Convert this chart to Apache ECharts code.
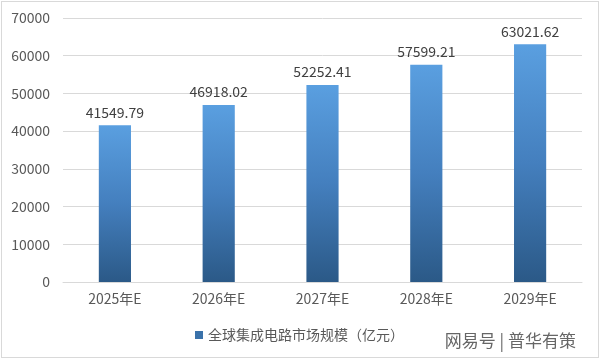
<!DOCTYPE html>
<html><head><meta charset="utf-8">
<script src="https://cdn.jsdelivr.net/npm/echarts@6/dist/echarts.min.js"></script>
<style>html,body{margin:0;padding:0;background:#fff}#c{width:602px;height:361px}
#frame{position:absolute;left:1px;top:1px;width:598px;height:357px;border:1px solid #d9d9d9;pointer-events:none;box-sizing:border-box}</style>
</head><body><div id="c"></div><div id="frame"></div>
<script>
const categories = ['2025年E','2026年E','2027年E','2028年E','2029年E'];
const values = [41549.79, 46918.02, 52252.41, 57599.21, 63021.62];
const seriesName = '全球集成电路市场规模（亿元）';
const yTicks = {min:0, max:70000, interval:10000};

const chart = echarts.init(document.getElementById('c'), null, {renderer:'canvas'});
const font = '"Microsoft YaHei","Noto Sans CJK SC","Noto Sans",sans-serif';
chart.setOption({
  animation:false,
  textStyle:{fontFamily:font},
  grid:{left:63, right:20, top:18, bottom:79, containLabel:false},
  xAxis:{type:'category', data:categories,
    axisLine:{show:true, lineStyle:{color:'#d9d9d9'}}, axisTick:{show:false},
    axisLabel:{color:'#595959', fontSize:14, margin:10, fontFamily:font}},
  yAxis:{type:'value', min:yTicks.min, max:yTicks.max, interval:yTicks.interval,
    axisLine:{show:false}, axisTick:{show:false},
    splitLine:{lineStyle:{color:'#d9d9d9', width:1}},
    axisLabel:{color:'#595959', fontSize:14, margin:13, fontFamily:font, formatter:v=>String(v)}},
  legend:{bottom:14, left:190, itemWidth:8, itemHeight:8, icon:'rect',
    textStyle:{color:'#595959', fontSize:14, fontFamily:font}, itemGap:6,
    data:[{name:seriesName, itemStyle:{color:'#3a72aa'}}]},
  series:[{name:seriesName, type:'bar', data:values, barWidth:'31%',
    itemStyle:{color:new echarts.graphic.LinearGradient(0,0,0,1,[
      {offset:0,color:'#5a9fe0'},{offset:0.5,color:'#447fbe'},{offset:1,color:'#2b5987'}])},
    label:{show:true, position:'top', color:'#404040', fontSize:14, distance:6,
      formatter:p=>p.value.toFixed(2)}}],
  graphic:[{type:'text', right:26, bottom:12, style:{text:'网易号 | 普华有策', fill:'#666', font:'17px '+font}}]
});
</script></body></html>
